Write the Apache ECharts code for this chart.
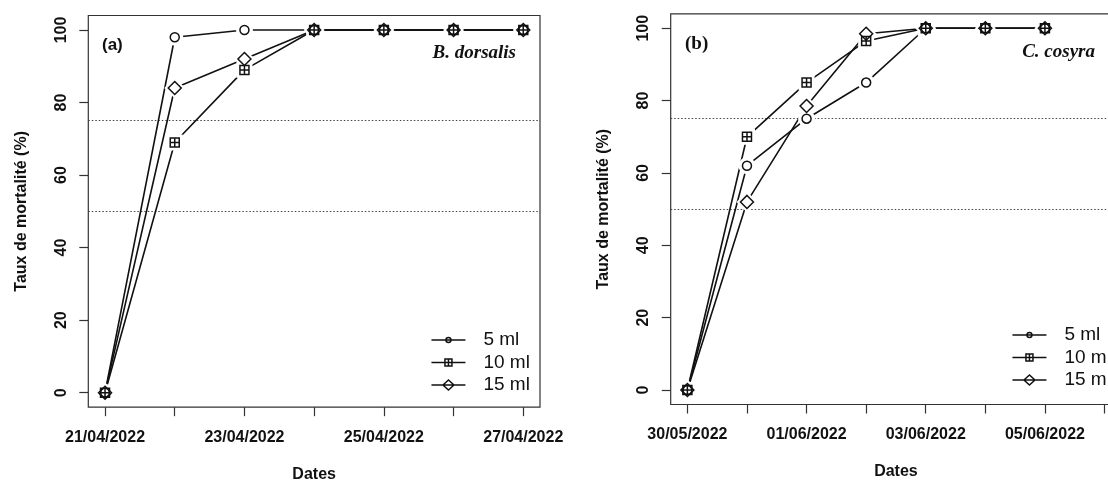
<!DOCTYPE html>
<html><head><meta charset="utf-8">
<script src="https://cdn.jsdelivr.net/npm/echarts@6/dist/echarts.min.js"></script>
<style>html,body{margin:0;padding:0;background:#fff}#c{width:1108px;height:483px}</style>
</head><body><div id="c"></div>
<script>
// ---------- data ----------
const datesA = ['21/04/2022','22/04/2022','23/04/2022','24/04/2022','25/04/2022','26/04/2022','27/04/2022'];
const datesB = ['30/05/2022','31/05/2022','01/06/2022','02/06/2022','03/06/2022','04/06/2022','05/06/2022','06/06/2022'];
const tickLabelsA = ['21/04/2022','23/04/2022','25/04/2022','27/04/2022'];
const tickLabelsB = ['30/05/2022','01/06/2022','03/06/2022','05/06/2022'];
const seriesNames = ['5 ml','10 ml','15 ml'];
const a5  = [0, 98, 100, 100, 100, 100, 100];
const a10 = [0, 69, 89, 100, 100, 100, 100];
const a15 = [0, 84, 92, 100, 100, 100, 100];
const b5  = [0, 62, 75, 85, 100, 100, 100];
const b10 = [0, 70, 85, 96.5, 100, 100, 100];
const b15 = [0, 52, 78.5, 98.5, 100, 100, 100];
const yTicks = [0, 20, 40, 60, 80, 100];
const thresholds = [75, 50];
const yTitle = 'Taux de mortalité (%)';
const xTitle = 'Dates';
const panelTags = ['(a)', '(b)'];
const species = ['B. dorsalis', 'C. cosyra'];

// ---------- styles ----------
const SANS = '"Liberation Sans", Arial, sans-serif';
const SERIF = '"Liberation Serif", "Times New Roman", serif';
const INK = '#111';
const SYM = [
  {mark: 'circle', size: 9, halo: 'circle', haloSize: 17,
   legend: 'path://M0,2.5L34,2.5M14.5,2.5A2.5,2.5,0,1,1,19.5,2.5A2.5,2.5,0,1,1,14.5,2.5'},
  {mark: 'path://M0,0L10,0L10,10L0,10ZM5,0L5,10M0,5L10,5', size: 9, halo: 'rect', haloSize: 16,
   legend: 'path://M0,3.5L34,3.5M13.5,0L20.5,0L20.5,7L13.5,7ZM17,0L17,7'},
  {mark: 'diamond', size: 13, halo: 'diamond', haloSize: 21,
   legend: 'path://M0,5L34,5M11.5,5L17,0L22.5,5L17,10Z'}
];

const panels = [
  {dates: datesA, labels: tickLabelsA, data: [a5, a10, a15], nDays: datesA.length - 1,
   grid: {left: 88.3, top: 15.5, width: 451.7, height: 391.7}},
  {dates: datesB, labels: tickLabelsB, data: [b5, b10, b15], nDays: datesB.length - 1,
   grid: {left: 670.7, top: 13.8, width: 450.5, height: 390.7}}
];

const grids = [], xAxes = [], yAxes = [], series = [];
panels.forEach((p, gi) => {
  grids.push(Object.assign({show: true, borderColor: '#333', borderWidth: 1.2, backgroundColor: 'transparent',
    containLabel: false, outerBoundsMode: 'none'}, p.grid));
  const pad = 0.04 * p.nDays;
  const tickVals = p.dates.map((d, i) => i);
  const labelVals = p.labels.map(l => p.dates.indexOf(l));
  xAxes.push({
    type: 'value', gridIndex: gi, min: -pad, max: p.nDays + pad,
    axisLine: {show: false, onZero: false},
    splitLine: {show: false},
    axisTick: {show: true, length: 9, customValues: tickVals, lineStyle: {color: '#333', width: 1.2}},
    axisLabel: {show: true, customValues: labelVals, margin: 22, color: INK,
      fontFamily: SANS, fontWeight: 'bold', fontSize: 16,
      formatter: v => p.dates[Math.round(v)] || ''},
    name: xTitle, nameLocation: 'middle', nameGap: 59,
    nameTextStyle: {color: INK, fontFamily: SANS, fontWeight: 'bold', fontSize: 16}
  });
  yAxes.push({
    type: 'value', gridIndex: gi, min: -4, max: 104,
    axisLine: {show: false, onZero: false},
    splitLine: {show: false},
    axisTick: {show: true, length: 9, customValues: yTicks, lineStyle: {color: '#333', width: 1.2}},
    axisLabel: {show: true, customValues: yTicks, rotate: 90, margin: 19, color: INK,
      fontFamily: SANS, fontWeight: 'bold', fontSize: 16},
    name: yTitle, nameLocation: 'middle', nameGap: 59,
    nameTextStyle: {color: INK, fontFamily: SANS, fontWeight: 'bold', fontSize: 16}
  });
  p.data.forEach((vals, si) => {
    const pts = vals.map((v, i) => [i, v]);
    const s = {
      type: 'line', name: seriesNames[si], xAxisIndex: gi, yAxisIndex: gi,
      data: pts, showSymbol: false, symbol: SYM[si].mark, z: 2,
      lineStyle: {color: INK, width: 1.6}, itemStyle: {color: INK},
      silent: true, animation: false
    };
    if (si === 0) {
      s.markLine = {silent: true, symbol: 'none', z: 1, animation: false,
        label: {show: false},
        lineStyle: {color: '#444', width: 1.2, type: [1.5, 2]},
        data: thresholds.map(t => ({yAxis: t}))};
    }
    series.push(s);
    series.push({
      type: 'scatter', name: 'halo' + gi + si, xAxisIndex: gi, yAxisIndex: gi,
      data: pts, symbol: SYM[si].halo, symbolSize: SYM[si].haloSize, z: 3,
      itemStyle: {color: '#fff', opacity: 1}, silent: true, animation: false
    });
    series.push({
      type: 'scatter', name: 'mark' + gi + si, xAxisIndex: gi, yAxisIndex: gi,
      data: pts, symbol: SYM[si].mark, symbolSize: SYM[si].size, z: 4,
      itemStyle: {color: 'rgba(0,0,0,0)', borderColor: INK, borderWidth: 1.5, opacity: 1},
      silent: true, animation: false
    });
  });
});

const legendBase = {
  orient: 'vertical', padding: 0, itemGap: 0.5, itemWidth: 34, itemHeight: 12,
  symbolKeepAspect: true, selectedMode: false,
  itemStyle: {color: 'rgba(0,0,0,0)', borderColor: INK, borderWidth: 1.5},
  textStyle: {color: INK, fontFamily: SANS, fontSize: 19, lineHeight: 22, padding: [0, 0, 0, 13]},
  data: seriesNames.map((n, i) => ({name: n, icon: SYM[i].legend}))
};

const option = {
  backgroundColor: '#fff',
  animation: false,
  title: [
    {text: panelTags[0], left: 102, top: 37, padding: 0,
     textStyle: {fontFamily: SANS, fontWeight: 'bold', fontSize: 17, color: INK}},
    {text: panelTags[1], left: 685, top: 35, padding: 0,
     textStyle: {fontFamily: SERIF, fontWeight: 'bold', fontSize: 19, color: INK}},
    {text: species[0], right: 1108 - 516, top: 44, padding: 0,
     textStyle: {fontFamily: SERIF, fontWeight: 'bold', fontStyle: 'italic', fontSize: 19, color: INK}},
    {text: species[1], right: 1108 - 1095, top: 43, padding: 0,
     textStyle: {fontFamily: SERIF, fontWeight: 'bold', fontStyle: 'italic', fontSize: 19, color: INK}}
  ],
  legend: [
    Object.assign({}, legendBase, {left: 430.7, top: 329}),
    Object.assign({}, legendBase, {left: 1011.7, top: 324})
  ],
  grid: grids, xAxis: xAxes, yAxis: yAxes, series: series
};

const chart = echarts.init(document.getElementById('c'), null, {renderer: 'canvas'});
chart.setOption(option);
</script>
</body></html>
